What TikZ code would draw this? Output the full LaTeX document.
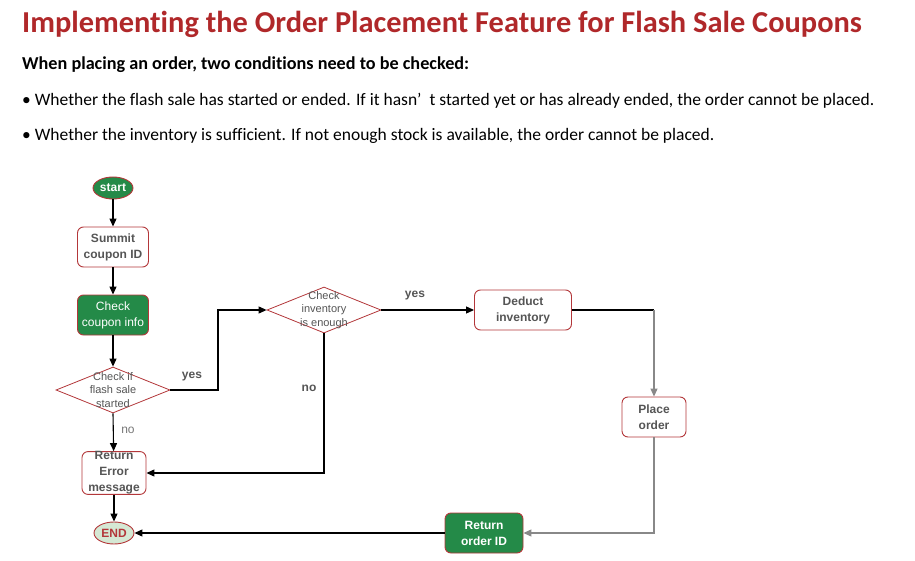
\documentclass[tikz,border=0pt]{standalone}
\usepackage{fontspec}
\setmainfont{Liberation Sans}
\newfontfamily\headfont[Ligatures=NoCommon]{Carlito}
\usetikzlibrary{shapes.geometric,arrows.meta}
\definecolor{titlered}{HTML}{B0282A}
\definecolor{boxred}{HTML}{B3373A}
\definecolor{boxgreen}{HTML}{248A48}
\definecolor{endgreen}{HTML}{D5E8D4}
\definecolor{txtgray}{HTML}{555555}
\definecolor{linegray}{HTML}{888888}
\tikzset{
  flowbox/.style={draw=boxred, line width=0.9pt, rounded corners=6pt, fill=white,
    minimum width=71pt, minimum height=40pt, inner sep=0pt, align=center,
    text=txtgray, font=\fontsize{12}{16}\selectfont\bfseries},
  greenbox/.style={flowbox, fill=boxgreen, text=white},
  decision/.style={diamond, draw=boxred, line width=0.8pt, fill=white, inner sep=0pt,
    minimum width=114pt, minimum height=46pt},
  dectext/.style={align=center, text=txtgray, font=\fontsize{11}{13.5}\selectfont},
  terminal/.style={ellipse, draw=boxred, line width=0.9pt, inner sep=0pt,
    minimum width=40pt, minimum height=22pt, font=\fontsize{12}{14}\selectfont\bfseries},
  flow/.style={line width=1.1pt, -{Triangle[length=8pt,width=7pt]}},
  branch/.style={text=txtgray, font=\fontsize{12}{14}\selectfont\bfseries},
  intro/.style={anchor=base west, inner sep=0pt, font=\headfont\fontsize{17.5}{20}\selectfont}
}
\begin{document}
\begin{tikzpicture}[x=1pt,y=-1pt]
\useasboundingbox (0,0) rectangle (915,561);

\node[anchor=base west, inner sep=0pt, text=titlered,
  font=\headfont\fontsize{30.4}{36}\selectfont\bfseries] (title) at (22,33)
  {Implementing the Order Placement Feature for Flash Sale Coupons};
\node[intro, font=\headfont\fontsize{18.2}{20}\selectfont\bfseries] (lead) at (22,70)
  {When placing an order, two conditions need to be checked:};
\node[intro] (cond1) at (22,106)
  {• Whether the flash sale has started or ended. If it hasn’\hspace{8pt}t started yet or has already ended, the order cannot be placed.};
\node[intro] (cond2) at (22,141)
  {• Whether the inventory is sufficient. If not enough stock is available, the order cannot be placed.};

\node[terminal, fill=boxgreen, text=white] (start) at (113,188) {start};
\node[flowbox] (submit) at (113,247) {Summit\\coupon ID};
\node[greenbox, font=\fontsize{12}{16}\selectfont] (info) at (113,315) {Check\\coupon info};
\node[decision, label={[dectext]center:Check if\\flash sale\\started}] (saleok) at (113,390) {};
\node[flowbox, minimum width=64pt] (error) at (114,473) {Return\\Error\\message};
\node[terminal, fill=endgreen, text=boxred] (end) at (114,533) {END};

\node[decision, label={[dectext]center:Check\\inventory\\is enough}] (stockok) at (324,310) {};
\node[flowbox, minimum width=97pt] (deduct) at (523,310) {Deduct\\inventory};
\node[flowbox, minimum width=64pt] (place) at (654,417) {Place\\order};
\node[greenbox, minimum width=78pt] (orderid) at (484,533) {Return\\order ID};

\coordinate (bend1) at (218,390);
\coordinate (bend2) at (218,310);
\coordinate (bend3) at (324,473);
\coordinate (bend4) at (654,310);
\coordinate (bend5) at (654,533);

\draw[flow] (start) -- (submit);
\draw[flow] (submit) -- (info);
\draw[flow] (info) -- (saleok.north);
\draw[flow] (saleok.east) -- (bend1) -- (bend2) -- (stockok.west);
\draw[flow] (saleok.south) -- (error);
\draw[flow] (stockok.south) -- (bend3) -- (error.east);
\draw[flow] (stockok.east) -- (deduct.west);
\draw[line width=1.1pt] (deduct.east) -- (bend4);
\draw[flow, draw=linegray] (bend4) -- (place.north);
\draw[flow, draw=linegray] (place.south) -- (bend5) -- (orderid.east);
\draw[flow] (orderid.west) -- (end.east);
\draw[flow] (error) -- (end);

\node[branch] (yes1) at (192,377) {yes};
\node[text=txtgray!80, font=\fontsize{12}{14}\selectfont] (no1) at (128,430) {no};
\node[branch] (no2) at (309,388) {no};
\node[branch] (yes2) at (415,296) {yes};
\end{tikzpicture}
\end{document}
